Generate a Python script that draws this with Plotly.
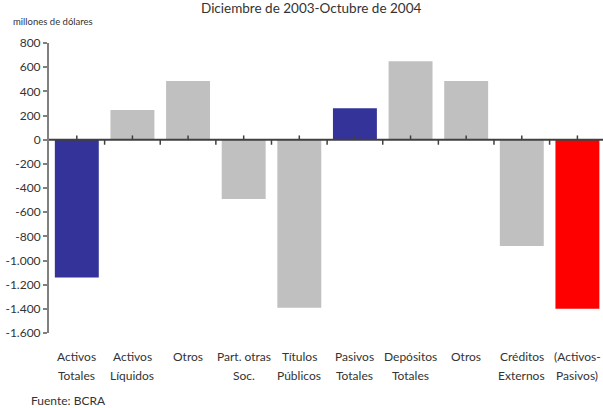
import plotly.graph_objects as go

# Variación de rubros, en millones de dólares
categories = ["Activos<br>Totales", "Activos<br>Líquidos", "Otros", "Part. otras<br>Soc.",
              "Títulos<br>Públicos", "Pasivos<br>Totales", "Depósitos<br>Totales", "Otros",
              "Créditos<br>Externos", "(Activos-<br>Pasivos)"]
values = [-1140, 245, 485, -490, -1390, 260, 650, 485, -880, -1400]
bar_colors = ["#333399", "#C0C0C0", "#C0C0C0", "#C0C0C0", "#C0C0C0",
              "#333399", "#C0C0C0", "#C0C0C0", "#C0C0C0", "#FF0000"]
y_tickvals = [800, 600, 400, 200, 0, -200, -400, -600, -800, -1000, -1200, -1400, -1600]
y_ticktext = ["800", "600", "400", "200", "0", "-200", "-400", "-600", "-800",
              "-1.000", "-1.200", "-1.400", "-1.600"]

FONT = "Lato"
TXT = "#333333"
AXIS = "#404040"
n = len(categories)
xpos = list(range(n))

# Plot area in pixels
W, H = 603, 408
L, T, B = 49, 43, 75
plot_w = W - L
plot_h = H - T - B


def px_x(x):
    return (x - L) / plot_w


def px_y(y):
    return (H - B - y) / plot_h


fig = go.Figure(go.Bar(x=xpos, y=values, marker=dict(color=bar_colors, line=dict(width=0)),
                       width=0.79, hoverinfo="skip"))

# Category axis along the zero line: centre ticks point up, boundary ticks point down
shapes = [dict(type="line", xref="x", yref="y", x0=-0.5, x1=n - 0.5, y0=0, y1=0,
               line=dict(color=AXIS, width=2))]
for i in xpos:
    shapes.append(dict(type="line", xref="x", yref="y", x0=i, x1=i, y0=0, y1=35,
                       line=dict(color=AXIS, width=1.5)))
    if i > 0:
        shapes.append(dict(type="line", xref="x", yref="y", x0=i - 0.5, x1=i - 0.5, y0=0, y1=-42,
                           line=dict(color=AXIS, width=1.5)))

fig.update_layout(
    width=W, height=H,
    margin=dict(l=L, r=0, t=T, b=B),
    paper_bgcolor="white", plot_bgcolor="white",
    showlegend=False,
    shapes=shapes,
    font=dict(family=FONT, size=12, color=TXT),
    xaxis=dict(range=[-0.5, n - 0.5 - 0.04], showticklabels=False, showgrid=False,
               zeroline=False, showline=False, ticks=""),
    yaxis=dict(range=[-1600, 800], tickvals=y_tickvals, ticktext=y_ticktext,
               showgrid=False, zeroline=False, showline=True, linecolor="#808080", linewidth=2,
               ticks="outside", ticklen=4, tickcolor="#808080", tickwidth=1.5,
               tickfont=dict(family=FONT, size=12, color=TXT)),
)

# Two-line category labels below the plot
label_rows = [356, 375.5]
for i, cat in enumerate(categories):
    for k, line in enumerate(cat.split("<br>")):
        fig.add_annotation(x=i, y=px_y(label_rows[k]), xref="x", yref="paper",
                           text=line, showarrow=False, xanchor="center", yanchor="middle",
                           font=dict(family=FONT, size=12, color=TXT))

fig.add_annotation(x=px_x(311), y=px_y(8), xref="paper", yref="paper",
                   text="Diciembre de 2003-Octubre de 2004", showarrow=False,
                   xanchor="center", yanchor="middle", font=dict(family=FONT, size=13.5, color=TXT))
fig.add_annotation(x=px_x(11), y=px_y(22), xref="paper", yref="paper",
                   text="millones de dólares", showarrow=False, xanchor="left", yanchor="middle",
                   font=dict(family=FONT, size=9.5, color=TXT))
fig.add_annotation(x=px_x(29), y=px_y(400), xref="paper", yref="paper",
                   text="Fuente: BCRA", showarrow=False, xanchor="left", yanchor="middle",
                   font=dict(family=FONT, size=12, color=TXT))

fig.write_html("out.html")
